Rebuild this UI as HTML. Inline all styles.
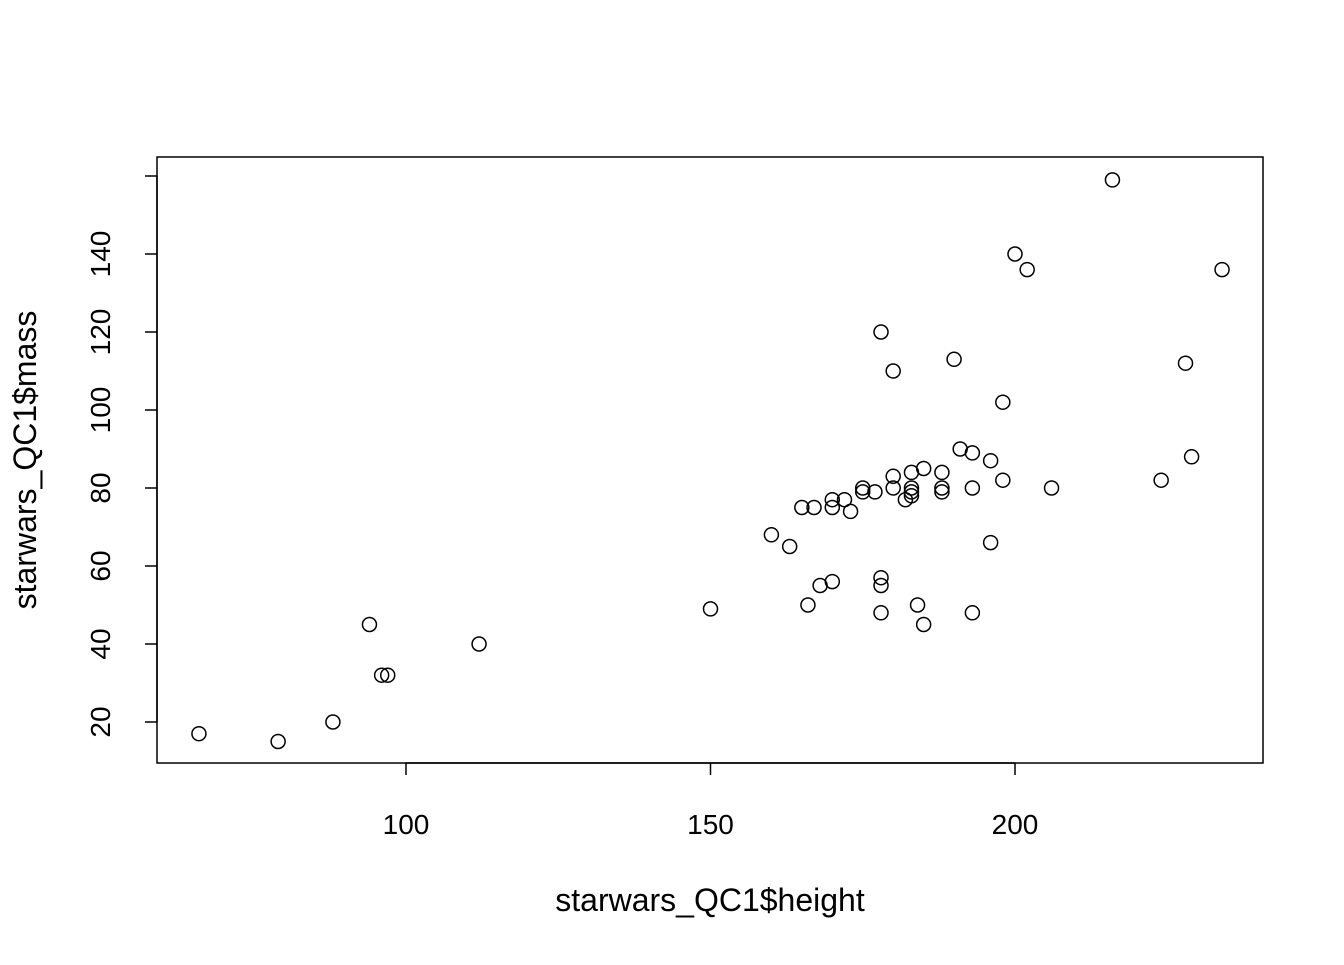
<!DOCTYPE html>
<html><head><meta charset="utf-8"><style>
html,body{margin:0;padding:0;background:#fff;}
svg text{font-family:"Liberation Sans",Arial,sans-serif;fill:#000;}
</style></head><body>
<svg id="chart" width="1344" height="960" viewBox="0 0 1344 960" xmlns="http://www.w3.org/2000/svg">
<rect x="157" y="157" width="1106" height="606" fill="none" stroke="#000" stroke-width="1.5"/>
<g id="xaxis"></g>
<g id="yaxis"></g>
<g id="pts"></g>
<text x="710" y="911" font-size="32" text-anchor="middle">starwars_QC1$height</text>
<text transform="translate(36,460) rotate(-90)" font-size="32" text-anchor="middle">starwars_QC1$mass</text>
</svg>
<script>
const heights=[66,79,88,94,96,97,112,150,160,163,165,167,166,168,170,170,170,172,173,175,175,177,178,178,178,178,180,180,180,182,183,183,183,183,184,185,185,188,188,188,190,191,193,193,193,196,196,198,198,200,202,206,216,224,228,229,234];
const masses=[17,15,20,45,32,32,40,49,68,65,75,75,50,55,56,77,75,77,74,80,79,79,120,57,55,48,110,83,80,77,84,80,79,78,50,85,45,84,80,79,113,90,89,80,48,87,66,102,82,140,136,80,159,82,112,88,136];
const xTicks=[100,150,200];
const yTicks=[20,40,60,80,100,120,140,160];
const yLabels=["20","40","60","80","100","120","140",""];
const NS="http://www.w3.org/2000/svg";
function xs(v){return 406+(v-100)*6.09;}
function ys(v){return 722-(v-20)*3.9;}
function mk(t,a){const e=document.createElementNS(NS,t);for(const k in a)e.setAttribute(k,a[k]);return e;}
const xa=document.getElementById('xaxis'),ya=document.getElementById('yaxis'),pg=document.getElementById('pts');
const xl=mk('line',{x1:xs(xTicks[0]),x2:xs(xTicks[xTicks.length-1]),y1:763,y2:763,stroke:'#000','stroke-width':1.5});


xa.appendChild(xl);
xTicks.forEach(v=>{
 const t=mk('line',{x1:xs(v),x2:xs(v),y1:763,y2:775,stroke:'#000','stroke-width':1.5});
 
 
 xa.appendChild(t);
 const l=mk('text',{x:xs(v),y:834,'font-size':28,'text-anchor':'middle'});
 l.textContent=v;
 
 
 xa.appendChild(l);
});
const yl=mk('line',{x1:157,x2:157,y1:ys(yTicks[0]),y2:ys(yTicks[yTicks.length-1]),stroke:'#000','stroke-width':1.5});


ya.appendChild(yl);
yTicks.forEach((v,i)=>{
 const t=mk('line',{x1:145,x2:157,y1:ys(v),y2:ys(v),stroke:'#000','stroke-width':1.5});
 
 
 ya.appendChild(t);
 if(yLabels[i]){
  const l=mk('text',{transform:`translate(110,${ys(v)}) rotate(-90)`,'font-size':28,'text-anchor':'middle'});
  l.textContent=yLabels[i];
  
  
  ya.appendChild(l);
 }
});
heights.forEach((h,i)=>{
 const c=mk('circle',{cx:xs(h),cy:ys(masses[i]),r:7,fill:'none',stroke:'#000','stroke-width':1.5});
 
 
 pg.appendChild(c);
});
</script>
</body></html>
